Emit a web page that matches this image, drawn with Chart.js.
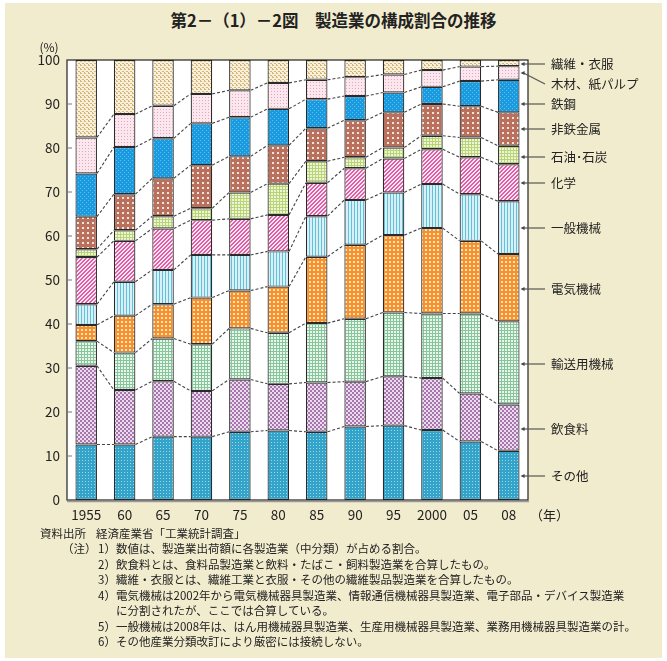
<!DOCTYPE html>
<html lang="ja">
<head>
<meta charset="utf-8">
<title>製造業の構成割合の推移</title>
<script src="https://cdn.jsdelivr.net/npm/chart.js@4.4.1/dist/chart.umd.min.js"></script>
<style>
  body { margin: 0; background: #fff; font-family: "Noto Sans CJK JP", "Noto Sans", sans-serif; color: #222; }
  #panel { position: absolute; left: 5px; top: 3px; width: 657px; height: 655px; background: #f2ecce; }
  #title { position: absolute; left: 0; top: 8px; width: 667px; text-align: center; font-size: 16.5px; font-weight: bold; }
  #chart { position: absolute; left: 0; top: 0; }
  .note { position: absolute; font-size: 11.5px; white-space: nowrap; line-height: 14px; }
</style>
</head>
<body>
<div id="panel"></div>
<div id="title">第2－（1）－2図　製造業の構成割合の推移</div>
<canvas id="chart" width="667" height="530"></canvas>

<div class="note" style="left:40px; top:526px;">資料出所</div>
<div class="note" style="left:96px; top:526px;">経済産業省「工業統計調査」</div>
<div class="note" style="left:62px; top:541px;">（注）</div>
<div class="note" style="left:98px; top:541px;">1）</div>
<div class="note" style="left:116px; top:541px;">数値は、製造業出荷額に各製造業（中分類）が占める割合。</div>
<div class="note" style="left:98px; top:556.5px;">2）</div>
<div class="note" style="left:116px; top:556.5px;">飲食料とは、食料品製造業と飲料・たばこ・飼料製造業を合算したもの。</div>
<div class="note" style="left:98px; top:572px;">3）</div>
<div class="note" style="left:116px; top:572px;">繊維・衣服とは、繊維工業と衣服・その他の繊維製品製造業を合算したもの。</div>
<div class="note" style="left:98px; top:587.5px;">4）</div>
<div class="note" style="left:116px; top:587.5px;">電気機械は2002年から電気機械器具製造業、情報通信機械器具製造業、電子部品・デバイス製造業</div>
<div class="note" style="left:116px; top:603px;">に分割されたが、ここでは合算している。</div>
<div class="note" style="left:98px; top:618.5px;">5）</div>
<div class="note" style="left:116px; top:618.5px;">一般機械は2008年は、はん用機械器具製造業、生産用機械器具製造業、業務用機械器具製造業の計。</div>
<div class="note" style="left:98px; top:634px;">6）</div>
<div class="note" style="left:116px; top:634px;">その他産業分類改訂により厳密には接続しない。</div>

<script>
// years on the x axis
const years = ['1955', '60', '65', '70', '75', '80', '85', '90', '95', '2000', '05', '08'];
const yTicks = [0, 10, 20, 30, 40, 50, 60, 70, 80, 90, 100];

// shares (%) per industry, bottom of the stack first
const sonota   = [12.6, 12.6, 14.4, 14.4, 15.5, 15.8, 15.5, 16.7, 16.9, 15.9, 13.3, 11.2];
const inshoku  = [17.9, 12.4, 12.6, 10.4, 11.9, 10.6, 11.2, 10.2, 11.2, 11.8, 10.9, 10.5];
const yuso     = [5.6, 8.5, 9.7, 10.6, 11.6, 11.6, 13.5, 14.3, 14.5, 14.7, 18.2, 18.9];
const denki    = [3.7, 8.4, 7.8, 10.6, 8.6, 10.5, 15.1, 16.8, 17.6, 19.4, 16.5, 15.3];
const ippan    = [4.7, 7.7, 7.8, 9.7, 8.1, 8.0, 9.2, 10.2, 9.7, 10.0, 10.6, 12.0];
const kagaku   = [10.7, 9.3, 9.4, 7.9, 8.2, 8.3, 7.6, 7.2, 7.7, 7.9, 8.4, 8.4];
const sekiyu   = [1.8, 2.4, 2.8, 2.7, 6.0, 7.1, 4.9, 2.5, 2.5, 3.1, 4.5, 4.2];
const hitetsu  = [7.4, 8.2, 8.6, 9.8, 8.2, 8.7, 7.5, 8.4, 8.0, 7.2, 7.1, 7.6];
const tekko    = [9.8, 10.7, 9.1, 9.5, 8.9, 8.3, 6.6, 5.5, 4.5, 3.9, 5.7, 7.4];
const mokuzai  = [8.2, 7.5, 7.4, 6.7, 6.1, 5.9, 4.4, 4.3, 4.1, 3.8, 3.3, 3.1];
const sen_i    = [17.6, 12.3, 10.4, 7.7, 6.9, 5.2, 4.5, 3.9, 3.3, 2.3, 1.5, 1.4];

const seriesNames = ['その他', '飲食料', '輸送用機械', '電気機械', '一般機械', '化学',
                     '石油･石炭', '非鉄金属', '鉄鋼', '木材、紙パルプ', '繊維・衣服'];
const seriesData = [sonota, inshoku, yuso, denki, ippan, kagaku, sekiyu, hitetsu, tekko, mokuzai, sen_i];
// where each name sits on the right (px from top)
const labelY = [476, 429, 364, 289, 228, 183, 157, 129, 104, 84, 64];

// --- fill patterns ---
function makePattern(w, h, draw) {
    const c = document.createElement('canvas');
    c.width = w; c.height = h;
    const g = c.getContext('2d');
    draw(g);
    return g.createPattern(c, 'repeat');
}

const patterns = [
    // その他: fine blue mesh
    makePattern(3, 3, g => { g.fillStyle = '#34a3c9'; g.fillRect(0, 0, 3, 3); g.fillStyle = '#9fd6ea'; g.fillRect(1, 1, 1, 1); }),
    // 飲食料: purple checker
    makePattern(4, 4, g => { g.fillStyle = '#eadcec'; g.fillRect(0, 0, 4, 4); g.fillStyle = '#a676ad'; g.fillRect(0, 0, 2, 2); g.fillRect(2, 2, 2, 2); }),
    // 輸送用機械: green grid
    makePattern(3, 3, g => { g.fillStyle = '#eaf5ec'; g.fillRect(0, 0, 3, 3); g.fillStyle = '#86c69a'; g.fillRect(0, 0, 3, 1); g.fillRect(0, 0, 1, 3); }),
    // 電気機械: orange with white squares
    makePattern(4, 4, g => { g.fillStyle = '#f5922e'; g.fillRect(0, 0, 4, 4); g.fillStyle = '#fde0bd'; g.fillRect(1, 1, 2, 2); }),
    // 一般機械: light blue vertical stripes
    makePattern(3, 3, g => { g.fillStyle = '#d8f0f6'; g.fillRect(0, 0, 3, 3); g.fillStyle = '#62c1da'; g.fillRect(0, 0, 1, 3); }),
    // 化学: pink diagonal stripes
    makePattern(4, 4, g => {
        g.fillStyle = '#fbe4f0'; g.fillRect(0, 0, 4, 4);
        g.fillStyle = '#df5fa6';
        for (let i = 0; i < 4; i++) { g.fillRect(i, 3 - i, 1, 1); g.fillRect((i + 1) % 4, 3 - i, 1, 1); }
    }),
    // 石油・石炭: yellow-green grid
    makePattern(3, 3, g => { g.fillStyle = '#eef4d8'; g.fillRect(0, 0, 3, 3); g.fillStyle = '#b8d474'; g.fillRect(0, 0, 3, 1); g.fillRect(0, 0, 1, 3); }),
    // 非鉄金属: brown with white dots
    makePattern(5, 5, g => { g.fillStyle = '#b9705c'; g.fillRect(0, 0, 5, 5); g.fillStyle = '#f6e4de'; g.fillRect(2, 2, 2, 2); }),
    // 鉄鋼: blue
    makePattern(4, 4, g => { g.fillStyle = '#1a9be0'; g.fillRect(0, 0, 4, 4); g.fillStyle = '#5fbdf0'; g.fillRect(0, 0, 1, 1); g.fillRect(2, 2, 1, 1); }),
    // 木材、紙パルプ: light pink dots
    makePattern(3, 3, g => { g.fillStyle = '#fbe8ef'; g.fillRect(0, 0, 3, 3); g.fillStyle = '#eba4c0'; g.fillRect(1, 1, 1, 1); }),
    // 繊維・衣服: beige dashes
    makePattern(4, 4, g => { g.fillStyle = '#f8f0da'; g.fillRect(0, 0, 4, 4); g.fillStyle = '#d4b676'; g.fillRect(0, 1, 2, 1); g.fillRect(2, 3, 2, 1); g.fillRect(0, 0, 1, 1); })
];

// --- plugins ---
const backgroundPlugin = {
    id: 'plotBackground',
    beforeDraw(chart) {
        const { ctx, chartArea: a } = chart;
        ctx.save();
        ctx.fillStyle = '#fff';
        ctx.fillRect(a.left, a.top, a.right - a.left, a.bottom - a.top);
        ctx.restore();
    }
};

const framePlugin = {
    id: 'frame',
    afterDatasetsDraw(chart) {
        const { ctx, chartArea: a, scales } = chart;
        ctx.save();

        // dashed connectors between bar tops
        ctx.strokeStyle = '#444';
        ctx.lineWidth = 1.1;
        ctx.setLineDash([3, 2]);
        for (let d = 0; d < seriesData.length - 1; d++) {
            const meta = chart.getDatasetMeta(d);
            for (let i = 0; i < meta.data.length - 1; i++) {
                const b1 = meta.data[i].getProps(['x', 'y', 'width'], true);
                const b2 = meta.data[i + 1].getProps(['x', 'y', 'width'], true);
                ctx.beginPath();
                ctx.moveTo(b1.x + b1.width / 2, b1.y);
                ctx.lineTo(b2.x - b2.width / 2, b2.y);
                ctx.stroke();
            }
        }
        ctx.setLineDash([]);

        // frame
        ctx.strokeStyle = '#222';
        ctx.lineWidth = 1.2;
        ctx.strokeRect(a.left, a.top, a.right - a.left, a.bottom - a.top);
        ctx.strokeStyle = '#999';
        ctx.lineWidth = 1.5;
        ctx.beginPath();
        ctx.moveTo(a.left, a.bottom + 1.5);
        ctx.lineTo(a.right + 1, a.bottom + 1.5);
        ctx.stroke();

        // inward y ticks
        ctx.strokeStyle = '#777';
        ctx.lineWidth = 1;
        yTicks.forEach(v => {
            const y = scales.y.getPixelForValue(v);
            ctx.beginPath();
            ctx.moveTo(a.left, y);
            ctx.lineTo(a.left + 5, y);
            ctx.stroke();
        });

        // unit labels
        ctx.fillStyle = '#222';
        ctx.font = '12px "Noto Sans CJK JP"';
        ctx.textBaseline = 'middle';
        ctx.textAlign = 'center';
        ctx.fillText('(%)', 49, 47);
        ctx.textAlign = 'left';
        ctx.font = '13px "Noto Sans CJK JP"';
        ctx.fillText('（年）', a.right + 2, 515);

        // series labels with arrows pointing at the last bar
        const last = chart.getDatasetMeta(0).data.length - 1;
        ctx.font = '12.5px "Noto Sans CJK JP"';
        for (let d = 0; d < seriesData.length; d++) {
            const bar = chart.getDatasetMeta(d).data[last].getProps(['x', 'y', 'base', 'width'], true);
            const top = Math.min(bar.y, bar.base), bot = Math.max(bar.y, bar.base);
            let ty = labelY[d];
            if (ty < top + 2 || ty > bot - 2) ty = (top + bot) / 2;
            const x0 = bar.x + bar.width / 2 + 1;
            const x1 = 545;
            ctx.strokeStyle = '#555';
            ctx.lineWidth = 1.2;
            ctx.beginPath();
            ctx.moveTo(x1, labelY[d]);
            ctx.lineTo(x0 + 3, ty);
            ctx.stroke();
            ctx.fillStyle = '#444';
            ctx.beginPath();
            ctx.moveTo(x0, ty);
            ctx.lineTo(x0 + 4, ty - 2);
            ctx.lineTo(x0 + 4, ty + 2);
            ctx.closePath();
            ctx.fill();
            ctx.fillStyle = '#222';
            ctx.fillText(seriesNames[d], 551, labelY[d]);
        }
        ctx.restore();
    }
};

// --- chart ---
const datasets = seriesData.map((arr, i) => ({
    label: seriesNames[i],
    data: arr,
    backgroundColor: patterns[i],
    borderColor: '#2a2a2a',
    borderWidth: 1.2,
    borderSkipped: false,
    categoryPercentage: 1.0,
    barPercentage: 0.56
}));

new Chart(document.getElementById('chart'), {
    type: 'bar',
    data: { labels: years, datasets: datasets },
    options: {
        responsive: false,
        animation: false,
        layout: { padding: { top: 60, right: 139, left: 0, bottom: 0 } },
        plugins: { legend: { display: false }, tooltip: { enabled: false } },
        scales: {
            x: {
                stacked: true,
                grid: { display: false, drawTicks: false },
                border: { display: false },
                ticks: { color: '#222', font: { size: 13.5, family: 'Noto Sans CJK JP' }, padding: 7, maxRotation: 0 },
                afterFit: s => { s.height = 30; }
            },
            y: {
                stacked: true,
                min: 0,
                max: 100,
                grid: { display: false, drawTicks: false },
                border: { display: false },
                ticks: { stepSize: 10, color: '#222', font: { size: 13.5, family: 'Noto Sans CJK JP' }, padding: 7 },
                afterFit: s => { s.width = 67; }
            }
        }
    },
    plugins: [backgroundPlugin, framePlugin]
});
</script>
</body>
</html>
